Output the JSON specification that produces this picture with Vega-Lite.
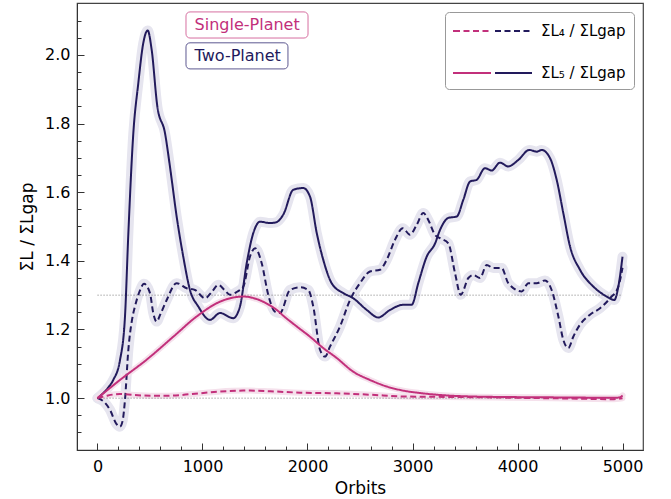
{
  "$schema": "https://vega.github.io/schema/vega-lite/v6.json",
  "width": 566,
  "height": 447,
  "autosize": {"type": "none"},
  "padding": {"left": 77, "top": 3, "right": 28, "bottom": 49},
  "config": {
    "font": "DejaVu Sans",
    "view": {"stroke": "#444", "strokeWidth": 1.2},
    "axis": {"grid": false, "domainColor": "#333", "tickColor": "#333", "labelColor": "#000", "titleColor": "#000", "labelFont": "DejaVu Sans", "titleFont": "DejaVu Sans", "titleFontWeight": "normal"}
  },
  "datasets": {
    "curves": [
      {"s": "Two-Planet", "r": "L5", "x": 0, "v": 1.0},
      {"s": "Two-Planet", "r": "L5", "x": 100, "v": 1.03},
      {"s": "Two-Planet", "r": "L5", "x": 150, "v": 1.053},
      {"s": "Two-Planet", "r": "L5", "x": 214, "v": 1.11},
      {"s": "Two-Planet", "r": "L5", "x": 262, "v": 1.238},
      {"s": "Two-Planet", "r": "L5", "x": 294, "v": 1.48},
      {"s": "Two-Planet", "r": "L5", "x": 341, "v": 1.77},
      {"s": "Two-Planet", "r": "L5", "x": 389, "v": 1.918},
      {"s": "Two-Planet", "r": "L5", "x": 436, "v": 2.034},
      {"s": "Two-Planet", "r": "L5", "x": 478, "v": 2.071},
      {"s": "Two-Planet", "r": "L5", "x": 516, "v": 2.015},
      {"s": "Two-Planet", "r": "L5", "x": 570, "v": 1.85},
      {"s": "Two-Planet", "r": "L5", "x": 643, "v": 1.772},
      {"s": "Two-Planet", "r": "L5", "x": 690, "v": 1.675},
      {"s": "Two-Planet", "r": "L5", "x": 754, "v": 1.529},
      {"s": "Two-Planet", "r": "L5", "x": 817, "v": 1.412},
      {"s": "Two-Planet", "r": "L5", "x": 881, "v": 1.315},
      {"s": "Two-Planet", "r": "L5", "x": 960, "v": 1.267},
      {"s": "Two-Planet", "r": "L5", "x": 1071, "v": 1.228},
      {"s": "Two-Planet", "r": "L5", "x": 1167, "v": 1.248},
      {"s": "Two-Planet", "r": "L5", "x": 1293, "v": 1.233},
      {"s": "Two-Planet", "r": "L5", "x": 1357, "v": 1.267},
      {"s": "Two-Planet", "r": "L5", "x": 1421, "v": 1.393},
      {"s": "Two-Planet", "r": "L5", "x": 1484, "v": 1.481},
      {"s": "Two-Planet", "r": "L5", "x": 1548, "v": 1.514},
      {"s": "Two-Planet", "r": "L5", "x": 1643, "v": 1.51},
      {"s": "Two-Planet", "r": "L5", "x": 1700, "v": 1.512},
      {"s": "Two-Planet", "r": "L5", "x": 1770, "v": 1.535},
      {"s": "Two-Planet", "r": "L5", "x": 1865, "v": 1.607},
      {"s": "Two-Planet", "r": "L5", "x": 1960, "v": 1.612},
      {"s": "Two-Planet", "r": "L5", "x": 2024, "v": 1.587},
      {"s": "Two-Planet", "r": "L5", "x": 2088, "v": 1.481},
      {"s": "Two-Planet", "r": "L5", "x": 2150, "v": 1.403},
      {"s": "Two-Planet", "r": "L5", "x": 2230, "v": 1.335},
      {"s": "Two-Planet", "r": "L5", "x": 2341, "v": 1.306},
      {"s": "Two-Planet", "r": "L5", "x": 2436, "v": 1.291},
      {"s": "Two-Planet", "r": "L5", "x": 2564, "v": 1.257},
      {"s": "Two-Planet", "r": "L5", "x": 2674, "v": 1.235},
      {"s": "Two-Planet", "r": "L5", "x": 2786, "v": 1.257},
      {"s": "Two-Planet", "r": "L5", "x": 2912, "v": 1.272},
      {"s": "Two-Planet", "r": "L5", "x": 2992, "v": 1.272},
      {"s": "Two-Planet", "r": "L5", "x": 3055, "v": 1.335},
      {"s": "Two-Planet", "r": "L5", "x": 3135, "v": 1.412},
      {"s": "Two-Planet", "r": "L5", "x": 3214, "v": 1.45},
      {"s": "Two-Planet", "r": "L5", "x": 3262, "v": 1.49},
      {"s": "Two-Planet", "r": "L5", "x": 3341, "v": 1.525},
      {"s": "Two-Planet", "r": "L5", "x": 3421, "v": 1.529},
      {"s": "Two-Planet", "r": "L5", "x": 3484, "v": 1.578},
      {"s": "Two-Planet", "r": "L5", "x": 3548, "v": 1.631},
      {"s": "Two-Planet", "r": "L5", "x": 3611, "v": 1.636},
      {"s": "Two-Planet", "r": "L5", "x": 3690, "v": 1.67},
      {"s": "Two-Planet", "r": "L5", "x": 3754, "v": 1.663},
      {"s": "Two-Planet", "r": "L5", "x": 3833, "v": 1.686},
      {"s": "Two-Planet", "r": "L5", "x": 3912, "v": 1.675},
      {"s": "Two-Planet", "r": "L5", "x": 4008, "v": 1.694},
      {"s": "Two-Planet", "r": "L5", "x": 4112, "v": 1.723},
      {"s": "Two-Planet", "r": "L5", "x": 4183, "v": 1.718},
      {"s": "Two-Planet", "r": "L5", "x": 4230, "v": 1.723},
      {"s": "Two-Planet", "r": "L5", "x": 4310, "v": 1.699},
      {"s": "Two-Planet", "r": "L5", "x": 4373, "v": 1.636},
      {"s": "Two-Planet", "r": "L5", "x": 4436, "v": 1.539},
      {"s": "Two-Planet", "r": "L5", "x": 4500, "v": 1.442},
      {"s": "Two-Planet", "r": "L5", "x": 4595, "v": 1.374},
      {"s": "Two-Planet", "r": "L5", "x": 4722, "v": 1.325},
      {"s": "Two-Planet", "r": "L5", "x": 4850, "v": 1.296},
      {"s": "Two-Planet", "r": "L5", "x": 4922, "v": 1.286},
      {"s": "Two-Planet", "r": "L5", "x": 4960, "v": 1.325},
      {"s": "Two-Planet", "r": "L5", "x": 5000, "v": 1.412},

      {"s": "Two-Planet", "r": "L4", "x": 0, "v": 1.0},
      {"s": "Two-Planet", "r": "L4", "x": 60, "v": 0.99},
      {"s": "Two-Planet", "r": "L4", "x": 119, "v": 0.966},
      {"s": "Two-Planet", "r": "L4", "x": 180, "v": 0.925},
      {"s": "Two-Planet", "r": "L4", "x": 214, "v": 0.917},
      {"s": "Two-Planet", "r": "L4", "x": 240, "v": 0.935},
      {"s": "Two-Planet", "r": "L4", "x": 262, "v": 0.995},
      {"s": "Two-Planet", "r": "L4", "x": 294, "v": 1.141},
      {"s": "Two-Planet", "r": "L4", "x": 330, "v": 1.23},
      {"s": "Two-Planet", "r": "L4", "x": 357, "v": 1.267},
      {"s": "Two-Planet", "r": "L4", "x": 400, "v": 1.31},
      {"s": "Two-Planet", "r": "L4", "x": 443, "v": 1.333},
      {"s": "Two-Planet", "r": "L4", "x": 500, "v": 1.306},
      {"s": "Two-Planet", "r": "L4", "x": 530, "v": 1.25},
      {"s": "Two-Planet", "r": "L4", "x": 563, "v": 1.223},
      {"s": "Two-Planet", "r": "L4", "x": 600, "v": 1.245},
      {"s": "Two-Planet", "r": "L4", "x": 659, "v": 1.286},
      {"s": "Two-Planet", "r": "L4", "x": 754, "v": 1.335},
      {"s": "Two-Planet", "r": "L4", "x": 850, "v": 1.32},
      {"s": "Two-Planet", "r": "L4", "x": 929, "v": 1.315},
      {"s": "Two-Planet", "r": "L4", "x": 1024, "v": 1.291},
      {"s": "Two-Planet", "r": "L4", "x": 1090, "v": 1.31},
      {"s": "Two-Planet", "r": "L4", "x": 1150, "v": 1.33},
      {"s": "Two-Planet", "r": "L4", "x": 1210, "v": 1.315},
      {"s": "Two-Planet", "r": "L4", "x": 1262, "v": 1.301},
      {"s": "Two-Planet", "r": "L4", "x": 1330, "v": 1.31},
      {"s": "Two-Planet", "r": "L4", "x": 1389, "v": 1.325},
      {"s": "Two-Planet", "r": "L4", "x": 1452, "v": 1.412},
      {"s": "Two-Planet", "r": "L4", "x": 1500, "v": 1.437},
      {"s": "Two-Planet", "r": "L4", "x": 1564, "v": 1.393},
      {"s": "Two-Planet", "r": "L4", "x": 1627, "v": 1.3},
      {"s": "Two-Planet", "r": "L4", "x": 1690, "v": 1.252},
      {"s": "Two-Planet", "r": "L4", "x": 1738, "v": 1.248},
      {"s": "Two-Planet", "r": "L4", "x": 1833, "v": 1.315},
      {"s": "Two-Planet", "r": "L4", "x": 1929, "v": 1.323},
      {"s": "Two-Planet", "r": "L4", "x": 2008, "v": 1.315},
      {"s": "Two-Planet", "r": "L4", "x": 2055, "v": 1.267},
      {"s": "Two-Planet", "r": "L4", "x": 2119, "v": 1.141},
      {"s": "Two-Planet", "r": "L4", "x": 2167, "v": 1.121},
      {"s": "Two-Planet", "r": "L4", "x": 2214, "v": 1.15},
      {"s": "Two-Planet", "r": "L4", "x": 2310, "v": 1.209},
      {"s": "Two-Planet", "r": "L4", "x": 2405, "v": 1.286},
      {"s": "Two-Planet", "r": "L4", "x": 2500, "v": 1.335},
      {"s": "Two-Planet", "r": "L4", "x": 2595, "v": 1.369},
      {"s": "Two-Planet", "r": "L4", "x": 2690, "v": 1.374},
      {"s": "Two-Planet", "r": "L4", "x": 2754, "v": 1.403},
      {"s": "Two-Planet", "r": "L4", "x": 2833, "v": 1.461},
      {"s": "Two-Planet", "r": "L4", "x": 2907, "v": 1.495},
      {"s": "Two-Planet", "r": "L4", "x": 2976, "v": 1.476},
      {"s": "Two-Planet", "r": "L4", "x": 3040, "v": 1.505},
      {"s": "Two-Planet", "r": "L4", "x": 3103, "v": 1.539},
      {"s": "Two-Planet", "r": "L4", "x": 3150, "v": 1.519},
      {"s": "Two-Planet", "r": "L4", "x": 3214, "v": 1.476},
      {"s": "Two-Planet", "r": "L4", "x": 3262, "v": 1.466},
      {"s": "Two-Planet", "r": "L4", "x": 3341, "v": 1.451},
      {"s": "Two-Planet", "r": "L4", "x": 3405, "v": 1.364},
      {"s": "Two-Planet", "r": "L4", "x": 3459, "v": 1.301},
      {"s": "Two-Planet", "r": "L4", "x": 3532, "v": 1.35},
      {"s": "Two-Planet", "r": "L4", "x": 3579, "v": 1.359},
      {"s": "Two-Planet", "r": "L4", "x": 3643, "v": 1.35},
      {"s": "Two-Planet", "r": "L4", "x": 3706, "v": 1.388},
      {"s": "Two-Planet", "r": "L4", "x": 3770, "v": 1.379},
      {"s": "Two-Planet", "r": "L4", "x": 3849, "v": 1.379},
      {"s": "Two-Planet", "r": "L4", "x": 3912, "v": 1.335},
      {"s": "Two-Planet", "r": "L4", "x": 4040, "v": 1.311},
      {"s": "Two-Planet", "r": "L4", "x": 4103, "v": 1.335},
      {"s": "Two-Planet", "r": "L4", "x": 4183, "v": 1.335},
      {"s": "Two-Planet", "r": "L4", "x": 4262, "v": 1.343},
      {"s": "Two-Planet", "r": "L4", "x": 4325, "v": 1.315},
      {"s": "Two-Planet", "r": "L4", "x": 4389, "v": 1.238},
      {"s": "Two-Planet", "r": "L4", "x": 4436, "v": 1.17},
      {"s": "Two-Planet", "r": "L4", "x": 4484, "v": 1.146},
      {"s": "Two-Planet", "r": "L4", "x": 4531, "v": 1.179},
      {"s": "Two-Planet", "r": "L4", "x": 4595, "v": 1.214},
      {"s": "Two-Planet", "r": "L4", "x": 4690, "v": 1.243},
      {"s": "Two-Planet", "r": "L4", "x": 4786, "v": 1.262},
      {"s": "Two-Planet", "r": "L4", "x": 4881, "v": 1.291},
      {"s": "Two-Planet", "r": "L4", "x": 4960, "v": 1.325},
      {"s": "Two-Planet", "r": "L4", "x": 5000, "v": 1.38},

      {"s": "Single-Planet", "r": "L5", "x": 0, "v": 1.0},
      {"s": "Single-Planet", "r": "L5", "x": 214, "v": 1.053},
      {"s": "Single-Planet", "r": "L5", "x": 468, "v": 1.112},
      {"s": "Single-Planet", "r": "L5", "x": 722, "v": 1.179},
      {"s": "Single-Planet", "r": "L5", "x": 945, "v": 1.238},
      {"s": "Single-Planet", "r": "L5", "x": 1167, "v": 1.281},
      {"s": "Single-Planet", "r": "L5", "x": 1389, "v": 1.296},
      {"s": "Single-Planet", "r": "L5", "x": 1548, "v": 1.285},
      {"s": "Single-Planet", "r": "L5", "x": 1643, "v": 1.27},
      {"s": "Single-Planet", "r": "L5", "x": 1707, "v": 1.257},
      {"s": "Single-Planet", "r": "L5", "x": 1770, "v": 1.24},
      {"s": "Single-Planet", "r": "L5", "x": 1897, "v": 1.209},
      {"s": "Single-Planet", "r": "L5", "x": 2024, "v": 1.179},
      {"s": "Single-Planet", "r": "L5", "x": 2150, "v": 1.146},
      {"s": "Single-Planet", "r": "L5", "x": 2278, "v": 1.117},
      {"s": "Single-Planet", "r": "L5", "x": 2436, "v": 1.077},
      {"s": "Single-Planet", "r": "L5", "x": 2595, "v": 1.053},
      {"s": "Single-Planet", "r": "L5", "x": 2754, "v": 1.034},
      {"s": "Single-Planet", "r": "L5", "x": 2912, "v": 1.022},
      {"s": "Single-Planet", "r": "L5", "x": 3071, "v": 1.015},
      {"s": "Single-Planet", "r": "L5", "x": 3231, "v": 1.01},
      {"s": "Single-Planet", "r": "L5", "x": 3548, "v": 1.005},
      {"s": "Single-Planet", "r": "L5", "x": 4000, "v": 1.003},
      {"s": "Single-Planet", "r": "L5", "x": 4500, "v": 1.002},
      {"s": "Single-Planet", "r": "L5", "x": 4900, "v": 1.001},
      {"s": "Single-Planet", "r": "L5", "x": 4970, "v": 1.002},
      {"s": "Single-Planet", "r": "L5", "x": 5000, "v": 1.008},

      {"s": "Single-Planet", "r": "L4", "x": 0, "v": 1.0},
      {"s": "Single-Planet", "r": "L4", "x": 100, "v": 1.008},
      {"s": "Single-Planet", "r": "L4", "x": 214, "v": 1.012},
      {"s": "Single-Planet", "r": "L4", "x": 350, "v": 1.009},
      {"s": "Single-Planet", "r": "L4", "x": 531, "v": 1.007},
      {"s": "Single-Planet", "r": "L4", "x": 659, "v": 1.007},
      {"s": "Single-Planet", "r": "L4", "x": 900, "v": 1.012},
      {"s": "Single-Planet", "r": "L4", "x": 1150, "v": 1.019},
      {"s": "Single-Planet", "r": "L4", "x": 1389, "v": 1.022},
      {"s": "Single-Planet", "r": "L4", "x": 1452, "v": 1.022},
      {"s": "Single-Planet", "r": "L4", "x": 1643, "v": 1.02},
      {"s": "Single-Planet", "r": "L4", "x": 1929, "v": 1.016},
      {"s": "Single-Planet", "r": "L4", "x": 2278, "v": 1.014},
      {"s": "Single-Planet", "r": "L4", "x": 2600, "v": 1.01},
      {"s": "Single-Planet", "r": "L4", "x": 2912, "v": 1.005},
      {"s": "Single-Planet", "r": "L4", "x": 3548, "v": 1.003},
      {"s": "Single-Planet", "r": "L4", "x": 4000, "v": 1.001},
      {"s": "Single-Planet", "r": "L4", "x": 4500, "v": 0.999},
      {"s": "Single-Planet", "r": "L4", "x": 4900, "v": 0.997},
      {"s": "Single-Planet", "r": "L4", "x": 5000, "v": 1.0}
    ]
  },
  "resolve": {"axis": {"x": "independent", "y": "independent"}},
  "layer": [
    {
      "data": {"name": "curves"},
      "transform": [{"filter": "datum.s == 'Two-Planet'"}],
      "mark": {"type": "line", "interpolate": "monotone", "stroke": "#e6e5ef", "strokeWidth": 10, "strokeCap": "round", "strokeJoin": "round"},
      "encoding": {
        "x": {"field": "x", "type": "quantitative", "scale": {"domain": [-195, 5195], "nice": false, "zero": false},
          "axis": {"orient": "bottom", "values": [200, 400, 600, 800, 1200, 1400, 1600, 1800, 2200, 2400, 2600, 2800, 3200, 3400, 3600, 3800, 4200, 4400, 4600, 4800], "tickSize": -4, "labels": false, "domain": false, "title": null, "grid": false}},
        "y": {"field": "v", "type": "quantitative", "scale": {"domain": [0.849, 2.151], "nice": false, "zero": false},
          "axis": {"orient": "left", "values": [0.9, 0.95, 1.05, 1.1, 1.15, 1.25, 1.3, 1.35, 1.45, 1.5, 1.55, 1.65, 1.7, 1.75, 1.85, 1.9, 1.95, 2.05, 2.1], "tickSize": -4, "labels": false, "domain": false, "title": null, "grid": false}},
        "detail": {"field": "r"}
      }
    },
    {
      "data": {"name": "curves"},
      "transform": [{"filter": "datum.s == 'Single-Planet'"}],
      "mark": {"type": "line", "interpolate": "monotone", "stroke": "#f5e1ec", "strokeWidth": 6, "strokeCap": "round"},
      "encoding": {
        "x": {"field": "x", "type": "quantitative",
          "axis": {"orient": "bottom", "values": [0, 1000, 2000, 3000, 4000, 5000], "format": "d", "tickSize": -7, "labelPadding": 15, "labelFontSize": 16, "title": "Orbits", "titleFontSize": 17, "titlePadding": 6, "grid": false}},
        "y": {"field": "v", "type": "quantitative",
          "axis": {"orient": "left", "values": [1.0, 1.2, 1.4, 1.6, 1.8, 2.0], "format": ".1f", "tickSize": -7, "labelPadding": 14, "labelFontSize": 16, "title": "ΣL / ΣLgap", "titleFontSize": 17, "titlePadding": 8, "grid": false}},
        "detail": {"field": "r"}
      }
    },
    {
      "data": {"values": [{}]},
      "mark": {"type": "rule", "color": "#777", "strokeWidth": 0.8, "strokeDash": [1.2, 1.8]},
      "encoding": {
        "x": {"datum": 0, "type": "quantitative", "axis": null},
        "x2": {"datum": 5000},
        "y": {"datum": 1.0, "type": "quantitative", "axis": null}
      }
    },
    {
      "data": {"values": [{}]},
      "mark": {"type": "rule", "color": "#777", "strokeWidth": 0.8, "strokeDash": [1.2, 1.8]},
      "encoding": {
        "x": {"datum": 0, "type": "quantitative", "axis": null},
        "x2": {"datum": 5000},
        "y": {"datum": 1.3, "type": "quantitative", "axis": null}
      }
    },
    {
      "data": {"name": "curves"},
      "mark": {"type": "line", "interpolate": "monotone", "strokeWidth": 2},
      "encoding": {
        "x": {"field": "x", "type": "quantitative", "axis": null},
        "y": {"field": "v", "type": "quantitative", "axis": null},
        "color": {"field": "s", "type": "nominal", "scale": {"domain": ["Two-Planet", "Single-Planet"], "range": ["#221a5c", "#c2307b"]}, "legend": null},
        "strokeDash": {"field": "r", "type": "nominal", "scale": {"domain": ["L4", "L5"], "range": [[6, 3.5], [1, 0]]},
          "legend": {
            "title": null,
            "orient": "top-right",
            "offset": 9,
            "padding": 8,
            "strokeColor": "#999",
            "fillColor": "white",
            "cornerRadius": 4,
            "symbolType": "M-1,-0.1L-1,0.1M-1,0L2.7,0M3.1,0L6.8,0",
            "symbolSize": 400,
            "symbolStrokeWidth": 2,
            "rowPadding": 23,
            "labelFontSize": 15,
            "labelFont": "DejaVu Sans",
            "labelLimit": 300,
            "labelOffset": 66,
            "labelExpr": "datum.value == 'L4' ? 'ΣL₄ / ΣLgap' : 'ΣL₅ / ΣLgap'",
            "encode": {
              "symbols": {"update": {"stroke": {"value": {"gradient": "linear", "x1": 0, "y1": 0, "x2": 1, "y2": 0, "stops": [{"offset": 0, "color": "#c2307b"}, {"offset": 0.5, "color": "#c2307b"}, {"offset": 0.5, "color": "#221a5c"}, {"offset": 1, "color": "#221a5c"}]}}}}
            }
          }
        },
        "detail": {"field": "s"}
      }
    },
    {
      "data": {"values": [{}]},
      "mark": {"type": "rect", "fill": "white", "stroke": "#d66fa0", "strokeWidth": 1, "cornerRadius": 4},
      "encoding": {
        "x": {"datum": 843, "type": "quantitative", "axis": null},
        "x2": {"datum": 2005},
        "y": {"datum": 2.125, "type": "quantitative", "axis": null},
        "y2": {"datum": 2.049}
      }
    },
    {
      "data": {"values": [{}]},
      "mark": {"type": "rect", "fill": "white", "stroke": "#5d5890", "strokeWidth": 1, "cornerRadius": 4},
      "encoding": {
        "x": {"datum": 843, "type": "quantitative", "axis": null},
        "x2": {"datum": 1814},
        "y": {"datum": 2.035, "type": "quantitative", "axis": null},
        "y2": {"datum": 1.959}
      }
    },
    {
      "data": {"values": [{}]},
      "mark": {"type": "text", "text": "Single-Planet", "color": "#c2307b", "fontSize": 16, "align": "left", "baseline": "middle", "font": "DejaVu Sans"},
      "encoding": {
        "x": {"datum": 925, "type": "quantitative", "axis": null},
        "y": {"datum": 2.087, "type": "quantitative", "axis": null}
      }
    },
    {
      "data": {"values": [{}]},
      "mark": {"type": "text", "text": "Two-Planet", "color": "#221a5c", "fontSize": 16, "align": "left", "baseline": "middle", "font": "DejaVu Sans"},
      "encoding": {
        "x": {"datum": 925, "type": "quantitative", "axis": null},
        "y": {"datum": 1.997, "type": "quantitative", "axis": null}
      }
    }
  ]
}
